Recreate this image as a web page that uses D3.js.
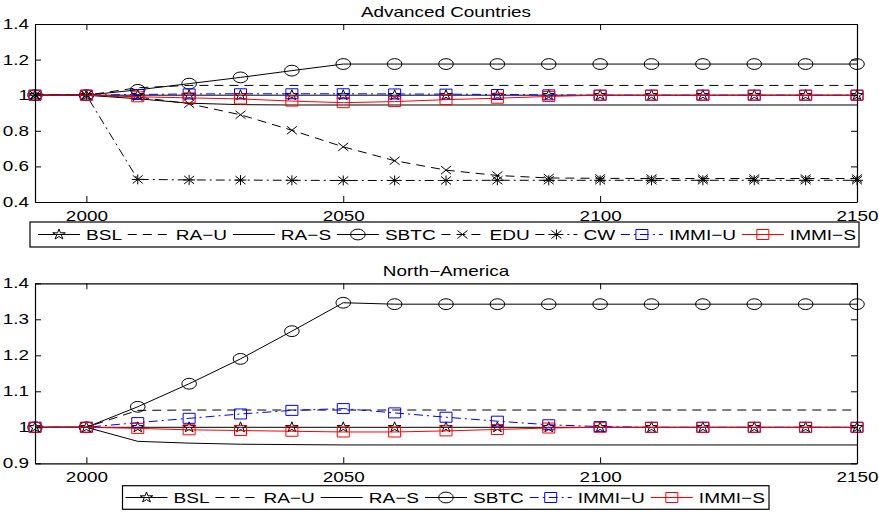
<!DOCTYPE html>
<html>
<head>
<meta charset="utf-8">
<script src="https://cdn.jsdelivr.net/npm/d3@7"></script>
<style>
body { margin: 0; background: #fff; }
text { font-family: "Liberation Sans", Arial, sans-serif; fill: #000; }
</style>
</head>
<body>
<div id="chart"></div>
<script>
// x values (years) shared by both panels
const years = [1990, 2000, 2010, 2020, 2030, 2040, 2050, 2060, 2070, 2080, 2090, 2100, 2110, 2120, 2130, 2140, 2150];
const xTicks = [2000, 2050, 2100, 2150];

// Advanced Countries
const advTicks = [0.4, 0.6, 0.8, 1, 1.2, 1.4];
const adv_bsl   = [1, 1, 1, 1, 1, 1, 1, 1, 1, 1, 1, 1, 1, 1, 1, 1, 1];
const adv_rau   = [1, 1, 1.042, 1.055, 1.055, 1.055, 1.055, 1.055, 1.055, 1.055, 1.055, 1.055, 1.055, 1.055, 1.055, 1.055, 1.055];
const adv_ras   = [1, 1, 0.98, 0.955, 0.947, 0.945, 0.945, 0.945, 0.945, 0.945, 0.945, 0.945, 0.945, 0.945, 0.945, 0.945, 0.945];
const adv_sbtc  = [1, 1, 1.03, 1.065, 1.1, 1.138, 1.175, 1.175, 1.175, 1.175, 1.175, 1.175, 1.175, 1.175, 1.175, 1.175, 1.175];
const adv_edu   = [1, 1, 0.99, 0.952, 0.89, 0.803, 0.71, 0.632, 0.579, 0.549, 0.535, 0.533, 0.532, 0.532, 0.532, 0.532, 0.532];
const adv_cw    = [1, 1, 0.527, 0.524, 0.523, 0.522, 0.521, 0.521, 0.521, 0.522, 0.522, 0.522, 0.522, 0.522, 0.522, 0.522, 0.522];
const adv_immiu = [1, 1, 1.004, 1.007, 1.008, 1.008, 1.008, 1.007, 1.006, 1.004, 1.002, 1, 1, 1, 1, 1, 1];
const adv_immis = [1, 1, 0.991, 0.985, 0.979, 0.967, 0.958, 0.964, 0.975, 0.983, 0.993, 1, 1, 1, 1, 1, 1];

// North-America
const naTicks = [0.9, 1, 1.1, 1.2, 1.3, 1.4];
const na_bsl   = [1, 1, 1, 1, 1, 1, 1, 1, 1, 1, 1, 1, 1, 1, 1, 1, 1];
const na_rau   = [1, 1, 1.047, 1.048, 1.048, 1.048, 1.048, 1.048, 1.048, 1.048, 1.048, 1.048, 1.048, 1.048, 1.048, 1.048, 1.048];
const na_ras   = [1, 1, 0.961, 0.956, 0.953, 0.952, 0.951, 0.951, 0.951, 0.951, 0.951, 0.951, 0.951, 0.951, 0.951, 0.951, 0.951];
const na_sbtc  = [1, 1, 1.057, 1.121, 1.19, 1.267, 1.346, 1.342, 1.342, 1.342, 1.342, 1.342, 1.342, 1.342, 1.342, 1.342, 1.342];
const na_immiu = [1, 1, 1.013, 1.025, 1.037, 1.047, 1.052, 1.04, 1.028, 1.017, 1.007, 1.002, 1, 1, 1, 1, 1];
const na_immis = [1, 1, 0.997, 0.993, 0.991, 0.989, 0.987, 0.987, 0.99, 0.994, 0.998, 1, 1, 1, 1, 1, 1];

// line styles for each series
const styles = {
    bsl:   {label: "BSL",    color: "#000", dash: null,         marker: "star"},
    rau:   {label: "RA\u2212U",   color: "#000", dash: "9,6",        marker: null},
    ras:   {label: "RA\u2212S",   color: "#000", dash: null,         marker: null},
    sbtc:  {label: "SBTC",   color: "#000", dash: null,         marker: "circle"},
    edu:   {label: "EDU",    color: "#000", dash: "9,6",        marker: "x"},
    cw:    {label: "CW",     color: "#000", dash: "9,4,2,4",    marker: "asterisk"},
    immiu: {label: "IMMI\u2212U", color: "#0000ff", dash: "9,4,2,4", marker: "square"},
    immis: {label: "IMMI\u2212S", color: "#ff0000", dash: null,      marker: "square"}
};

const SX = 1.35;   // the figure is stretched horizontally
const LSX = 1.27;
const left = 35, right = 857;

let svg = d3.select("#chart").append("svg")
    .attr("width", 879)
    .attr("height", 512);

let x = d3.scaleLinear().domain([1990, 2150]).range([left, right]);

function drawMarker(g, type, color) {
    let m;
    if (type == "star") {
        m = g.append("path").attr("d", d3.symbol(d3.symbolStar, 34)())
            .attr("transform", "scale(1.2,1)");
    } else if (type == "circle") {
        m = g.append("ellipse").attr("rx", 7.3).attr("ry", 5.4);
    } else if (type == "square") {
        m = g.append("rect").attr("x", -6).attr("y", -5).attr("width", 12).attr("height", 10);
    } else if (type == "x") {
        m = g.append("path").attr("d", "M-5,-4L5,4M-5,4L5,-4");
    } else {
        m = g.append("path").attr("d", "M-5,-4L5,4M-5,4L5,-4M-6,0L6,0M0,-5L0,5");
    }
    m.attr("fill", "none").attr("stroke", color).attr("stroke-width", 1)
        .attr("vector-effect", "non-scaling-stroke");
}

function drawPanel(cfg) {
    let g = svg.append("g");
    let y = d3.scaleLinear().domain(cfg.yDomain).range([cfg.bottom, cfg.top]);

    //lines and markers, in plotting order
    cfg.series.forEach(s => {
        const st = styles[s.key];
        const line = d3.line().x((d, i) => x(years[i])).y(d => y(d));
        g.append("path").datum(s.values)
            .attr("d", line)
            .attr("fill", "none")
            .attr("stroke", st.color)
            .attr("stroke-width", 1)
            .attr("stroke-dasharray", st.dash);
        if (st.marker) {
            g.selectAll(null).data(s.values).enter().append("g")
                .attr("transform", (d, i) => `translate(${x(years[i])},${y(d)})`)
                .each(function () { drawMarker(d3.select(this), st.marker, st.color); });
        }
    });

    //axes, ticks pointing inwards on all four sides
    let ax = svg.append("g");
    let bottomAxis = ax.append("g").attr("transform", `translate(0,${cfg.bottom})`)
        .call(d3.axisBottom(x).tickValues(xTicks).tickSizeInner(-6).tickSizeOuter(0).tickPadding(9)
            .tickFormat(d3.format("d")));
    ax.append("g").attr("transform", `translate(0,${cfg.top})`)
        .call(d3.axisTop(x).tickValues(xTicks).tickSizeInner(-6).tickSizeOuter(0).tickFormat(""));
    let leftAxis = ax.append("g").attr("transform", `translate(${left},0)`)
        .call(d3.axisLeft(y).tickValues(cfg.yTicks).tickSizeInner(-6).tickSizeOuter(0)
            .tickFormat(d => String(+d.toFixed(1))));
    ax.append("g").attr("transform", `translate(${right},0)`)
        .call(d3.axisRight(y).tickValues(cfg.yTicks).tickSizeInner(-6).tickSizeOuter(0).tickFormat(""));

    ax.selectAll("path.domain").attr("stroke", "#000").attr("stroke-width", 1.2);
    ax.selectAll(".tick line").attr("stroke", "#000").attr("stroke-width", 1);
    ax.selectAll("text").attr("font-family", null).attr("font-size", 14);
    bottomAxis.selectAll("text").attr("transform", `scale(${SX},1)`);
    leftAxis.selectAll("text").attr("x", -6 / SX).attr("transform", `scale(${SX},1)`);

    //title
    svg.append("text")
        .attr("transform", `translate(${(left + right) / 2},${cfg.top - 7}) scale(${SX},1)`)
        .attr("text-anchor", "middle")
        .attr("font-size", 14)
        .text(cfg.title);
}

function drawLegend(cfg) {
    let lg = svg.append("g");
    const cy = (cfg.y0 + cfg.y1) / 2;
    const lineLen = 42, textOff = 48;

    lg.append("rect")
        .attr("x", cfg.x0).attr("y", cfg.y0)
        .attr("width", cfg.x1 - cfg.x0).attr("height", cfg.y1 - cfg.y0)
        .attr("fill", "#fff").attr("stroke", "#000").attr("stroke-width", 1.2);

    let texts = cfg.keys.map(k => lg.append("text").attr("font-size", 15).text(styles[k].label));
    let widths = texts.map(t => t.node().getComputedTextLength() * LSX);
    let total = d3.sum(widths) + cfg.keys.length * textOff;
    let gap = (cfg.x1 - cfg.x0 - cfg.padL - cfg.padR - total) / (cfg.keys.length - 1);

    let sx = cfg.x0 + cfg.padL;
    cfg.keys.forEach((k, i) => {
        const st = styles[k];
        lg.append("line")
            .attr("x1", sx).attr("x2", sx + lineLen)
            .attr("y1", cy).attr("y2", cy)
            .attr("stroke", st.color).attr("stroke-width", 1)
            .attr("stroke-dasharray", st.dash);
        if (st.marker) {
            let mg = lg.append("g").attr("transform", `translate(${sx + lineLen / 2},${cy})`);
            drawMarker(mg, st.marker, st.color);
        }
        texts[i].attr("transform", `translate(${sx + textOff},${cy + 5.5}) scale(${LSX},1)`);
        sx += textOff + widths[i] + gap;
    });
}

drawPanel({
    title: "Advanced Countries",
    top: 24, bottom: 202,
    yDomain: [0.4, 1.4], yTicks: advTicks,
    series: [
        {key: "bsl", values: adv_bsl},
        {key: "rau", values: adv_rau},
        {key: "ras", values: adv_ras},
        {key: "sbtc", values: adv_sbtc},
        {key: "edu", values: adv_edu},
        {key: "cw", values: adv_cw},
        {key: "immiu", values: adv_immiu},
        {key: "immis", values: adv_immis}
    ]
});

drawLegend({
    x0: 30, x1: 859, y0: 222, y1: 247, padL: 8, padR: 3,
    keys: ["bsl", "rau", "ras", "sbtc", "edu", "cw", "immiu", "immis"]
});

drawPanel({
    title: "North\u2212America",
    top: 283.3, bottom: 463.3,
    yDomain: [0.9, 1.4], yTicks: naTicks,
    series: [
        {key: "bsl", values: na_bsl},
        {key: "rau", values: na_rau},
        {key: "ras", values: na_ras},
        {key: "sbtc", values: na_sbtc},
        {key: "immiu", values: na_immiu},
        {key: "immis", values: na_immis}
    ]
});

drawLegend({
    x0: 122.5, x1: 769, y0: 485.7, y1: 509.3, padL: 3, padR: 4,
    keys: ["bsl", "rau", "ras", "sbtc", "immiu", "immis"]
});
</script>
</body>
</html>
